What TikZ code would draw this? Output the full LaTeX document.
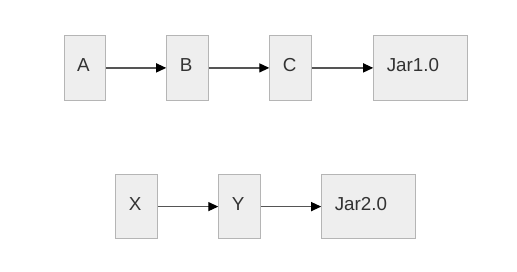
\documentclass[tikz,border=0pt]{standalone}
\usepackage{fontspec}
\setmainfont{Liberation Sans}
\usetikzlibrary{arrows.meta}
\definecolor{boxfill}{HTML}{EEEEEE}
\definecolor{boxline}{HTML}{B5B5B5}
\definecolor{txt}{HTML}{333333}
\definecolor{arr}{HTML}{555555}
\tikzset{
  box/.style={draw=boxline, fill=boxfill, line width=1.1pt, rectangle,
    minimum height=64.5pt, inner xsep=13pt, inner ysep=0pt,
    text height=13.3pt, text depth=5.7pt, align=left, text=txt,
    font=\fontsize{18.8pt}{20pt}\selectfont},
  small/.style={box, minimum width=41.5pt, text width=15.5pt},
  wide/.style={box, minimum width=93.5pt, text width=67.5pt},
  link/.style={draw=arr, line width=1.3pt, -{Triangle[length=10pt,width=9pt,fill=black,color=black]}}
}
\begin{document}
\begin{tikzpicture}[x=1pt,y=-1pt]
\useasboundingbox (0,0) rectangle (517,271);
\node[small] (a) at (84.9,67.9) {A};
\node[small] (b) at (187.5,67.9) {B};
\node[small] (c) at (290.6,67.9) {C};
\node[wide] (j1) at (420.5,67.9) {Jar1.0};
\node[small] (x) at (136.6,206.6) {X};
\node[small] (y) at (239.6,206.6) {Y};
\node[wide] (j2) at (368.5,206.6) {Jar2.0};
\draw[link] (a) -- (b);
\draw[link] (b) -- (c);
\draw[link] (c) -- (j1);
\draw[link] (x) -- (y);
\draw[link] (y) -- (j2);
\end{tikzpicture}
\end{document}
